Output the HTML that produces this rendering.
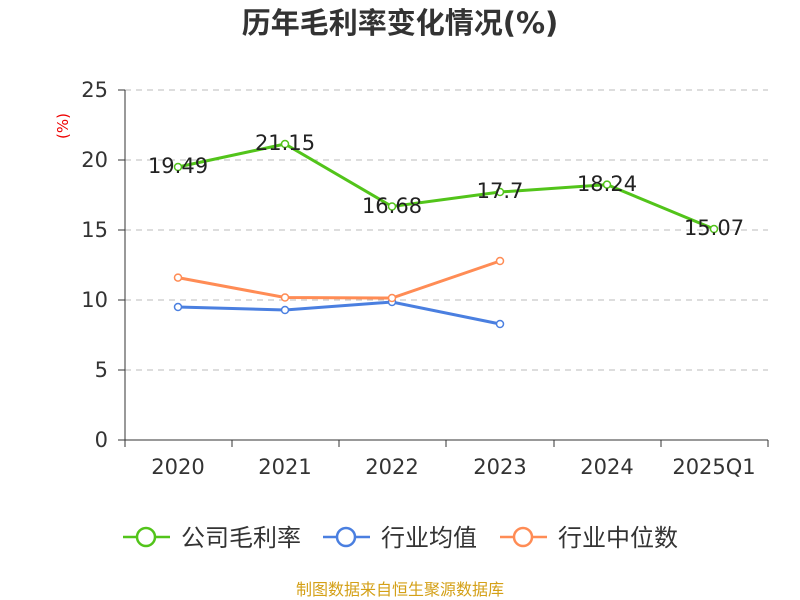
<!DOCTYPE html>
<html><head><meta charset="utf-8"><style>body{margin:0;background:#fff}svg{display:block}</style></head><body>
<svg width="800" height="600" viewBox="0 0 800 600" font-family="DejaVu Sans, Noto Sans CJK SC, sans-serif">
<rect width="800" height="600" fill="#fff"/>
<text x="400" y="33" text-anchor="middle" font-size="29" font-weight="bold" fill="#333">历年毛利率变化情况(%)</text>
<g stroke="#bbb" stroke-dasharray="6,5" stroke-width="1">
<line x1="125" y1="90" x2="768" y2="90"/><line x1="125" y1="160" x2="768" y2="160"/><line x1="125" y1="230" x2="768" y2="230"/><line x1="125" y1="300" x2="768" y2="300"/><line x1="125" y1="370" x2="768" y2="370"/>
</g>
<g stroke="#333" stroke-width="1">
<line x1="125" y1="90" x2="125" y2="440"/><line x1="125" y1="440" x2="768" y2="440"/>
<line x1="118" y1="90" x2="125" y2="90"/><line x1="118" y1="160" x2="125" y2="160"/><line x1="118" y1="230" x2="125" y2="230"/><line x1="118" y1="300" x2="125" y2="300"/><line x1="118" y1="370" x2="125" y2="370"/><line x1="118" y1="440" x2="125" y2="440"/>
<line x1="125" y1="440" x2="125" y2="447"/><line x1="232" y1="440" x2="232" y2="447"/><line x1="339" y1="440" x2="339" y2="447"/><line x1="446" y1="440" x2="446" y2="447"/><line x1="554" y1="440" x2="554" y2="447"/><line x1="661" y1="440" x2="661" y2="447"/><line x1="768" y1="440" x2="768" y2="447"/>
</g>
<g font-size="21" fill="#333" text-anchor="end">
<text x="108" y="97">25</text><text x="108" y="167">20</text><text x="108" y="237">15</text><text x="108" y="307">10</text><text x="108" y="377">5</text><text x="108" y="447">0</text>
</g>
<text x="68" y="126" font-size="15" fill="#e00" text-anchor="middle" transform="rotate(-90 68 126)">(%)</text>
<g font-size="21" fill="#333" text-anchor="middle">
<text x="178" y="474">2020</text><text x="285" y="474">2021</text><text x="392" y="474">2022</text><text x="500" y="474">2023</text><text x="607" y="474">2024</text><text x="714" y="474">2025Q1</text>
</g>
<g fill="none" stroke-width="3">
<polyline stroke="#52c41a" points="178,167 285,144 392,206.5 500,192 607,184.6 714,229"/>
<polyline stroke="#4a7fe0" points="178,307 285,310 392,302 500,324"/>
<polyline stroke="#ff8c55" points="178,277.6 285,297.5 392,298 500,261"/>
</g>
<g fill="#fff" stroke-width="1.5">
<g stroke="#52c41a"><circle cx="178" cy="167" r="3.5"/><circle cx="285" cy="144" r="3.5"/><circle cx="392" cy="206.5" r="3.5"/><circle cx="500" cy="192" r="3.5"/><circle cx="607" cy="184.6" r="3.5"/><circle cx="714" cy="229" r="3.5"/></g>
<g stroke="#4a7fe0"><circle cx="178" cy="307" r="3.5"/><circle cx="285" cy="310" r="3.5"/><circle cx="392" cy="302" r="3.5"/><circle cx="500" cy="324" r="3.5"/></g>
<g stroke="#ff8c55"><circle cx="178" cy="277.6" r="3.5"/><circle cx="285" cy="297.5" r="3.5"/><circle cx="392" cy="298" r="3.5"/><circle cx="500" cy="261" r="3.5"/></g>
</g>
<g font-size="21" fill="#222" text-anchor="middle">
<text x="178" y="173">19.49</text><text x="285" y="150">21.15</text><text x="392" y="213">16.68</text><text x="500" y="198">17.7</text><text x="607" y="191">18.24</text><text x="714" y="235">15.07</text>
</g>
<g stroke-width="2.5" fill="#fff">
<line x1="123" y1="537" x2="170" y2="537" stroke="#52c41a"/><circle cx="146" cy="537" r="9" stroke="#52c41a"/>
<line x1="323" y1="537" x2="370" y2="537" stroke="#4a7fe0"/><circle cx="346" cy="537" r="9" stroke="#4a7fe0"/>
<line x1="500" y1="537" x2="547" y2="537" stroke="#ff8c55"/><circle cx="523" cy="537" r="9" stroke="#ff8c55"/>
</g>
<g font-size="24" fill="#333">
<text x="181" y="546">公司毛利率</text><text x="381" y="546">行业均值</text><text x="558" y="546">行业中位数</text>
</g>
<text x="400" y="595" text-anchor="middle" font-size="16" fill="#d4a017">制图数据来自恒生聚源数据库</text>
</svg>
</body></html>
